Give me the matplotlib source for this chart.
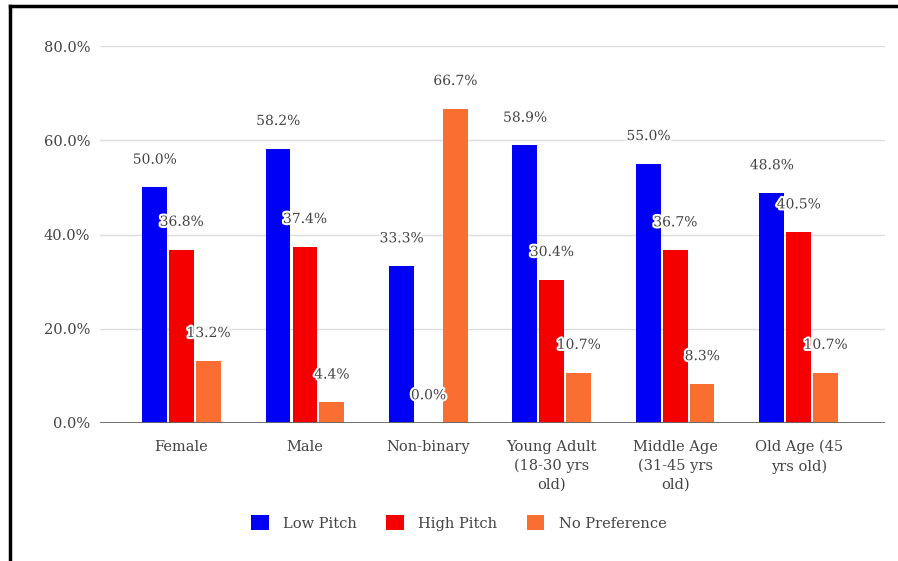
import numpy as np
import matplotlib.pyplot as plt
import matplotlib.patheffects as pe
from matplotlib.lines import Line2D
from matplotlib.patches import Patch

# Pitch preference by group, in percent
groups = ["Female", "Male", "Non-binary", "Young Adult\n(18-30 yrs\nold)",
          "Middle Age\n(31-45 yrs\nold)", "Old Age (45\nyrs old)"]
low_pitch = [50.0, 58.2, 33.3, 58.9, 55.0, 48.8]
high_pitch = [36.8, 37.4, 0.0, 30.4, 36.7, 40.5]
no_pref = [13.2, 4.4, 66.7, 10.7, 8.3, 10.7]

series = [("Low Pitch", low_pitch, "#0000f5"),
          ("High Pitch", high_pitch, "#f50000"),
          ("No Preference", no_pref, "#fa6e32")]

txt = "#444444"
plt.rcParams['font.family'] = ['DejaVu Serif']

fig = plt.figure(figsize=(8.98, 5.61), dpi=100)
ax = fig.add_axes([100 / 898, 1 - 423 / 561, 785 / 898, 377 / 561])

x = np.arange(len(groups))
w = 0.2
step = 0.218
halo = [pe.withStroke(linewidth=3, foreground="white")]

for i, (name, vals, col) in enumerate(series):
    pos = x + (i - 1) * step
    ax.bar(pos, np.array(vals) / 100, width=w, color=col, zorder=3)
    for p, v in zip(pos, vals):
        ax.annotate(f"{v:.1f}%", (p, v / 100), xytext=(0, 20),
                    textcoords="offset points", ha="center", va="center",
                    fontsize=10, color=txt, path_effects=halo, zorder=5)

ax.set_ylim(0, 0.8)
ax.set_xlim(-0.66, 5.70)
ax.set_yticks([0, 0.2, 0.4, 0.6, 0.8])
ax.set_yticklabels(["0.0%", "20.0%", "40.0%", "60.0%", "80.0%"])
ax.set_xticks(x)
ax.set_xticklabels(groups, linespacing=1.45)
ax.tick_params(length=0, labelsize=10.5, labelcolor=txt)
ax.tick_params(axis="y", pad=7)
ax.tick_params(axis="x", pad=12)
ax.grid(axis="y", color="#dddddd", linewidth=1, zorder=0)
for s in ax.spines.values():
    s.set_visible(False)
ax.axhline(0, color="#666666", linewidth=1.3, zorder=4)

handles = [Patch(facecolor=c, label=n) for n, _, c in series]
fig.legend(handles=handles, loc="center", bbox_to_anchor=(0.511, 1 - 523 / 561),
           ncol=3, frameon=False, fontsize=10.5, handlelength=1.2,
           handleheight=1.2, handletextpad=1.0, columnspacing=2.0,
           labelcolor=txt)

# dark frame along top and left edges
fig.add_artist(Line2D([10 / 898, 10 / 898], [0, 1 - 6 / 561],
                      transform=fig.transFigure, color="black", linewidth=2.5))
fig.add_artist(Line2D([10 / 898, 1], [1 - 6 / 561, 1 - 6 / 561],
                      transform=fig.transFigure, color="black", linewidth=2.5))

fig.savefig("out.png", dpi=100)
